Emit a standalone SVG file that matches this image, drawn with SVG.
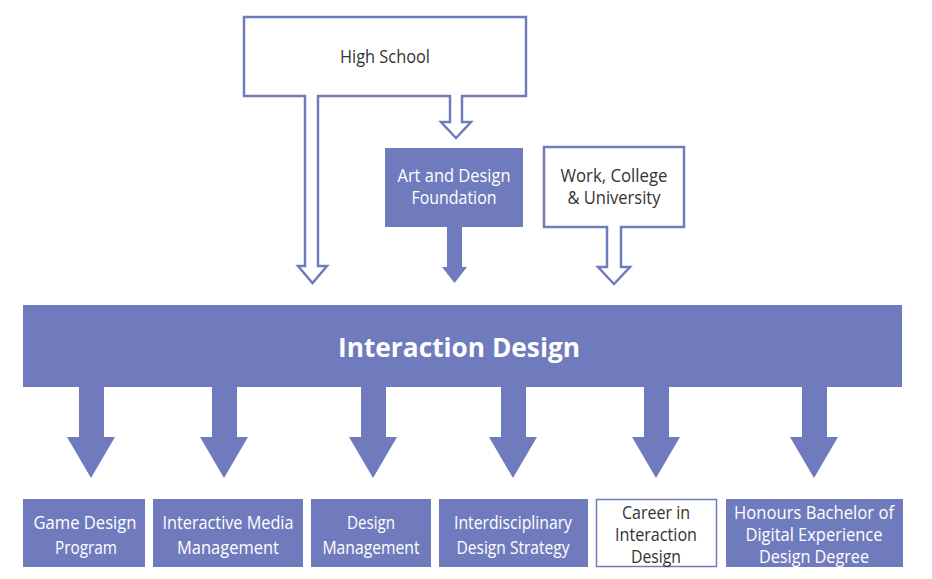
<svg xmlns="http://www.w3.org/2000/svg" width="932" height="579" viewBox="0 0 932 579">
<style>
.fill{fill:#6f7bbd}
.out{fill:#fff;stroke:#6f7bbd;stroke-width:2.5;stroke-linejoin:miter}
.t{font-family:"Open Sans","Noto Sans",sans-serif;font-size:18px;text-anchor:middle}
.w{fill:#fff}
.d{fill:#333}
.big{font-family:"Open Sans","Noto Sans",sans-serif;font-size:27px;font-weight:700;fill:#fff;text-anchor:middle}
</style>
<rect width="932" height="579" fill="#fff"/>
<g id="high-school">
<path class="out" d="M244,17 H526 V96 H462 V122 H471 L456,138 L441,122 H450 V96 H318 V266 H327 L312.5,283 L298,266 H305 V96 H244 Z"/>
<text class="t d" x="385" y="63" textLength="90" lengthAdjust="spacingAndGlyphs">High School</text>
</g>
<g id="art-design-foundation">
<rect class="fill" x="385" y="148" width="138" height="79"/>
<text class="t w" x="454" y="182" textLength="113" lengthAdjust="spacingAndGlyphs">Art and Design</text>
<text class="t w" x="454" y="204" textLength="85" lengthAdjust="spacingAndGlyphs">Foundation</text>
</g>
<g id="work-college">
<path class="out" d="M544,147 H684 V227 H621 V267 H630 L614,284 L598,267 H607 V227 H544 Z"/>
<text class="t d" x="614" y="182" textLength="107" lengthAdjust="spacingAndGlyphs">Work, College</text>
<text class="t d" x="614" y="204" textLength="93" lengthAdjust="spacingAndGlyphs">&amp; University</text>
</g>
<g id="interaction-design">
<rect class="fill" x="23" y="305" width="879" height="82"/>
<text class="big" x="459" y="357" textLength="242" lengthAdjust="spacingAndGlyphs">Interaction Design</text>
</g>
<g id="connectors">
<path class="fill" d="M447,227 H462 V267 H467 L454.5,283 L442,267 H447 Z"/>
<path class="fill" d="M79,387 H104 V437 H115 L91,478 L67,437 H79 Z"/>
<path class="fill" d="M212,387 H237 V437 H248 L224,478 L200,437 H212 Z"/>
<path class="fill" d="M361,387 H386 V437 H397 L373,478 L349,437 H361 Z"/>
<path class="fill" d="M501,387 H526 V437 H537 L513,478 L489,437 H501 Z"/>
<path class="fill" d="M644,387 H669 V437 H680 L656,478 L632,437 H644 Z"/>
<path class="fill" d="M802,387 H827 V437 H838 L814,478 L790,437 H802 Z"/>
</g>
<g id="game-design">
<rect class="fill" x="23" y="499" width="122" height="68"/>
<text class="t w" x="85" y="529" textLength="103" lengthAdjust="spacingAndGlyphs">Game Design</text>
<text class="t w" x="86" y="554" textLength="62" lengthAdjust="spacingAndGlyphs">Program</text>
</g>
<g id="interactive-media">
<rect class="fill" x="153" y="499" width="150" height="68"/>
<text class="t w" x="228" y="529" textLength="131" lengthAdjust="spacingAndGlyphs">Interactive Media</text>
<text class="t w" x="228" y="554" textLength="102" lengthAdjust="spacingAndGlyphs">Management</text>
</g>
<g id="design-management">
<rect class="fill" x="311" y="499" width="120" height="68"/>
<text class="t w" x="371" y="529" textLength="48" lengthAdjust="spacingAndGlyphs">Design</text>
<text class="t w" x="371" y="554" textLength="97" lengthAdjust="spacingAndGlyphs">Management</text>
</g>
<g id="interdisciplinary">
<rect class="fill" x="439" y="499" width="149" height="68"/>
<text class="t w" x="513" y="529" textLength="118" lengthAdjust="spacingAndGlyphs">Interdisciplinary</text>
<text class="t w" x="513" y="554" textLength="113" lengthAdjust="spacingAndGlyphs">Design Strategy</text>
</g>
<g id="career">
<rect x="596.5" y="499.5" width="120" height="67" fill="#fff" stroke="#6f7bbd" stroke-width="1.5"/>
<text class="t d" x="656" y="519" textLength="68" lengthAdjust="spacingAndGlyphs">Career in</text>
<text class="t d" x="656" y="541" textLength="82" lengthAdjust="spacingAndGlyphs">Interaction</text>
<text class="t d" x="656" y="563" textLength="50" lengthAdjust="spacingAndGlyphs">Design</text>
</g>
<g id="honours">
<rect class="fill" x="726" y="499" width="177" height="68"/>
<text class="t w" x="814" y="519" textLength="160" lengthAdjust="spacingAndGlyphs">Honours  Bachelor of</text>
<text class="t w" x="814" y="541" textLength="137" lengthAdjust="spacingAndGlyphs">Digital Experience</text>
<text class="t w" x="814" y="563" textLength="110" lengthAdjust="spacingAndGlyphs">Design Degree</text>
</g>
</svg>
